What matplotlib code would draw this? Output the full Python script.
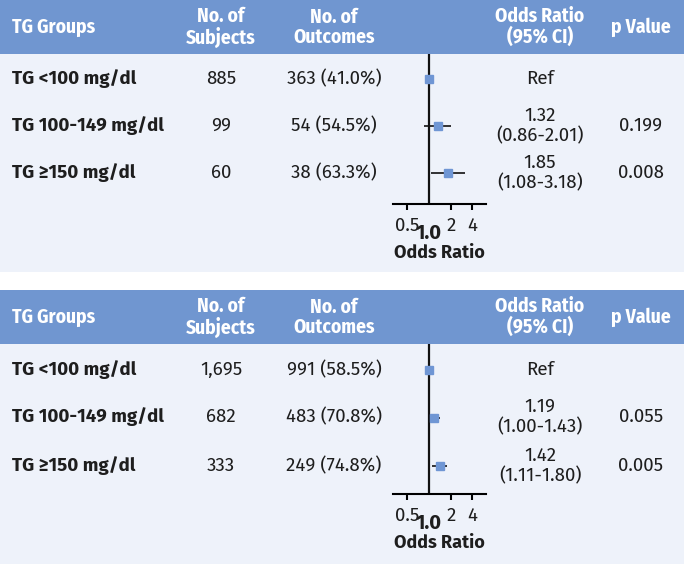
import matplotlib.pyplot as plt
from matplotlib.patches import Rectangle

W, H = 684, 564

groups = ["TG <100 mg/dl", "TG 100-149 mg/dl", "TG \u2265150 mg/dl"]

# panel 1
subj1 = ["885", "99", "60"]
outc1 = ["363 (41.0%)", "54 (54.5%)", "38 (63.3%)"]
or1 = [1.00, 1.32, 1.85]
lo1 = [1.00, 0.86, 1.08]
hi1 = [1.00, 2.01, 3.18]
ortxt1 = ["Ref", "1.32\n(0.86-2.01)", "1.85\n(1.08-3.18)"]
p1 = ["", "0.199", "0.008"]

# panel 2
subj2 = ["1,695", "682", "333"]
outc2 = ["991 (58.5%)", "483 (70.8%)", "249 (74.8%)"]
or2 = [1.00, 1.19, 1.42]
lo2 = [1.00, 1.00, 1.11]
hi2 = [1.00, 1.43, 1.80]
ortxt2 = ["Ref", "1.19\n(1.00-1.43)", "1.42\n(1.11-1.80)"]
p2 = ["", "0.055", "0.005"]

xticks = [0.5, 2, 4]

HEAD = "#7096d0"
BODY = "#eef2fa"
MARK = "#6f96d4"
TXT = "#1e1e1e"
BODYFONT = ["Fira Sans", "DejaVu Sans"]
HEADFONT = ["Fira Sans Condensed", "DejaVu Sans"]
FS = 13.5

fig = plt.figure(figsize=(W / 100, H / 100), dpi=100)


def fx(x):
    return x / W


def fy(y):
    return 1 - y / H


def rect(y0, y1, c):
    fig.patches.append(Rectangle((0, fy(y1)), 1, (y1 - y0) / H, transform=fig.transFigure,
                                 facecolor=c, edgecolor="none", zorder=-1))


def panel(top, rows, axis_y, subj, outc, orv, lo, hi, ortxt, pv, bottom):
    # header and body background
    rect(top, top + 54, HEAD)
    rect(top + 54, bottom, BODY)

    hk = dict(color="white", fontsize=14, fontweight="bold", family=HEADFONT,
              va="center", linespacing=1.05)
    fig.text(fx(12), fy(top + 27), "TG Groups", ha="left", **hk)
    fig.text(fx(221), fy(top + 27), "No. of\nSubjects", ha="center", **hk)
    fig.text(fx(334), fy(top + 27), "No. of\nOutcomes", ha="center", **hk)
    fig.text(fx(540), fy(top + 27), "Odds Ratio\n(95% CI)", ha="center", **hk)
    fig.text(fx(641), fy(top + 27), "p Value", ha="center", **hk)

    bk = dict(color=TXT, fontsize=FS, family=BODYFONT, va="center")
    for i, y in enumerate(rows):
        fig.text(fx(12), fy(y), groups[i], ha="left", fontweight="bold", **bk)
        fig.text(fx(221), fy(y), subj[i], ha="center", **bk)
        fig.text(fx(334), fy(y), outc[i], ha="center", **bk)
        fig.text(fx(540), fy(y), ortxt[i], ha="center", linespacing=1.1, **bk)
        fig.text(fx(641), fy(y), pv[i], ha="center", **bk)

    # forest plot
    ax_top = top + 54
    ax = fig.add_axes([fx(393), fy(axis_y), 93 / W, (axis_y - ax_top) / H])
    ax.set_facecolor("none")
    ax.set_xscale("log", base=2)
    ax.set_xlim(0.316, 6.18)
    step = (rows[-1] - rows[0]) / 2
    ax.set_ylim(2 + (axis_y - rows[-1]) / step, -(rows[0] - ax_top) / step)
    for s in ["left", "right", "top"]:
        ax.spines[s].set_visible(False)
    ax.spines["bottom"].set_linewidth(1.5)
    ax.axvline(1, color="#111111", lw=1.6, zorder=1)
    ypos = list(range(len(orv)))
    err = [[o - l for o, l in zip(orv, lo)], [h - o for o, h in zip(orv, hi)]]
    ax.errorbar(orv, ypos, xerr=err, fmt="none", ecolor="#111111", elinewidth=1.2,
                capsize=0, zorder=2)
    ax.plot(orv, ypos, "s", color=MARK, markersize=6.3, zorder=3)
    ax.set_yticks([])
    ax.set_xticks(xticks)
    ax.set_xticklabels(["0.5", "2", "4"], family=BODYFONT, fontsize=FS, color=TXT)
    ax.xaxis.set_minor_locator(plt.NullLocator())
    ax.tick_params(axis="x", length=4, width=1.5, pad=5)
    ax.annotate("1.0", xy=(1, 0), xycoords=("data", "axes fraction"), xytext=(0, -21),
                textcoords="offset points", ha="center", va="center",
                fontsize=14.5, fontweight="bold", family=BODYFONT, color=TXT)
    ax.annotate("Odds Ratio", xy=(0.5, 0), xycoords="axes fraction", xytext=(0, -35),
                textcoords="offset points", ha="center", va="center",
                fontsize=13, fontweight="bold", family=BODYFONT, color=TXT)


panel(0, [79, 126, 173], 204, subj1, outc1, or1, lo1, hi1, ortxt1, p1, 272)
panel(290, [370, 417, 466], 494, subj2, outc2, or2, lo2, hi2, ortxt2, p2, 564)

fig.savefig("out.png", dpi=100)
